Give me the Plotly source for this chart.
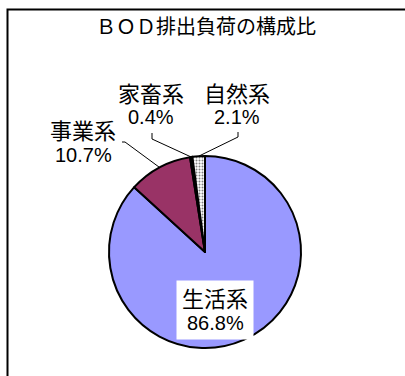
import math
import plotly.graph_objects as go

# Share of BOD discharge load by source
categories = ["生活系", "事業系", "家畜系", "自然系"]
shares = [86.8, 10.7, 0.4, 2.1]
slice_colors = ["#9999FF", "#993366", "#000000", "#FFFFFF"]

W, H = 405, 376
CX, CY, R = 205, 252, 96  # pie centre and radius in pixels

CJK_FONT = dict(size=22, color="#000000", family="Noto Sans CJK JP")
NUM_FONT = dict(size=20, color="#000000", family="Liberation Sans Narrow, Liberation Sans, Arial")

fig = go.Figure()

fig.add_trace(go.Pie(
    labels=categories,
    values=shares,
    sort=False,
    direction="clockwise",
    rotation=0,
    textinfo="none",
    hoverinfo="label+percent",
    showlegend=False,
    marker=dict(
        colors=slice_colors,
        line=dict(color="#000000", width=2),
        pattern=dict(shape=["", "", "", "."],
                     fgcolor=["#9999FF", "#993366", "#000000", "#808080"],
                     bgcolor=slice_colors,
                     size=[4, 4, 4, 3], solidity=[0.2, 0.2, 0.2, 0.35]),
    ),
    domain=dict(x=[(CX - R) / W, (CX + R) / W],
                y=[1 - (CY + R) / H, 1 - (CY - R) / H]),
))


def edge_point(idx):
    """Point on the rim at the middle of slice idx (clockwise from 12 o'clock)."""
    total = sum(shares)
    before = sum(shares[:idx])
    ang = 2 * math.pi * (before + shares[idx] / 2) / total
    return CX + R * math.sin(ang), CY - R * math.cos(ang)


def add_label(idx, x, y_name, y_pct):
    fig.add_annotation(x=x, y=y_name, xref="x", yref="y", text=categories[idx],
                       showarrow=False, font=CJK_FONT)
    fig.add_annotation(x=x, y=y_pct, xref="x", yref="y", text=f"{shares[idx]}%",
                       showarrow=False, font=NUM_FONT)


# label position (centre x, name y, percent y) and leader-line elbow for outside labels
outside = {
    1: dict(pos=(83, 129, 155), elbow=[(122, 142), (125, 142)]),
    2: dict(pos=(151, 92, 117), elbow=[(152, 133), (152, 139)]),
    3: dict(pos=(237, 92, 117), elbow=[(238, 132), (238, 137)]),
}

for idx, spec in outside.items():
    ex, ey = edge_point(idx)
    xs = [p[0] for p in spec["elbow"]] + [ex]
    ys = [p[1] for p in spec["elbow"]] + [ey]
    fig.add_trace(go.Scatter(x=xs, y=ys, mode="lines",
                             line=dict(color="#000000", width=1),
                             hoverinfo="skip", showlegend=False))
    add_label(idx, *spec["pos"])

# label inside the largest slice, on a white box
fig.add_annotation(x=215, y=310, xref="x", yref="y", text=" ", showarrow=False,
                   bgcolor="#FFFFFF", width=76, height=58, borderpad=0)
add_label(0, 215, 297, 323)

# title
fig.add_annotation(x=206, y=25, xref="x", yref="y",
                   text="ＢＯＤ排出負荷の構成比", showarrow=False,
                   font=dict(size=20, color="#000000", family="Noto Sans CJK JP"))

# chart frame
fig.add_shape(type="rect", xref="x", yref="y", x0=7.5, y0=9.5, x1=W + 20, y1=H + 20,
              line=dict(color="#000000", width=2), fillcolor="rgba(0,0,0,0)", layer="below")

fig.update_layout(
    width=W, height=H,
    margin=dict(l=0, r=0, t=0, b=0),
    paper_bgcolor="#FFFFFF", plot_bgcolor="rgba(0,0,0,0)",
    xaxis=dict(range=[0, W], visible=False, fixedrange=True),
    yaxis=dict(range=[H, 0], visible=False, fixedrange=True),
)

fig.write_html("out.html")
